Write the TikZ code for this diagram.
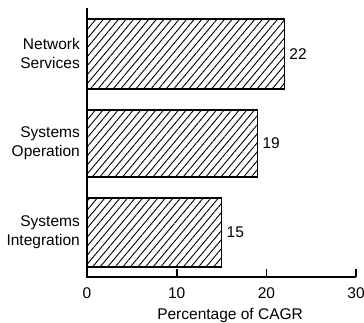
\documentclass[tikz,border=0pt]{standalone}
\usepackage{fontspec}
\setmainfont{Liberation Sans}
\usetikzlibrary{patterns.meta,positioning}

\tikzset{
  bar/.style={draw, line width=1.4pt,
    pattern={Lines[angle=50,distance=5.8pt,line width=0.9pt]}},
  axis/.style={line width=1.8pt},
  catlabel/.style={anchor=east, align=right, inner sep=0pt,
    font=\fontsize{15.5}{19.5}\selectfont},
  vallabel/.style={anchor=west, inner sep=0pt, font=\fontsize{15.5}{19}\selectfont},
  ticklabel/.style={anchor=base, inner sep=0pt, font=\fontsize{15.5}{19}\selectfont}
}

\begin{document}
\begin{tikzpicture}[x=8.97pt, y=-1pt]
  \useasboundingbox (-9.7,0) rectangle (30.88,323);

  % axes
  \coordinate (top) at (0,8);
  \coordinate (origin) at (0,277);
  \coordinate (xend) at (30,277);
  \draw[axis] (top) -- (origin) -- (xend);
  \foreach \t in {10,20,30}
    \draw[axis] (\t,277) -- (\t,269);
  \foreach \t in {0,10,20,30}
    \node[ticklabel] (tick\t) at (\t,298) {\t};
  \node[anchor=base, inner sep=0pt, font=\fontsize{15.5}{19}\selectfont]
    (xtitle) at (15.95,319) {Percentage of CAGR};

  % bars
  \foreach \val/\ytop/\ybot/\name/\txt in {
      22/19/89/net/{Network\\Services},
      19/110/177/ops/{Systems\\Operation},
      15/198/267/int/{Systems\\Integration}}
  {
    \draw[bar] (0,\ytop) rectangle (\val,\ybot);
    \node[vallabel] (\name val) at ({\val+0.55},{(\ytop+\ybot)/2}) {\val};
    \node[catlabel] (\name) at (-0.78,{(\ytop+\ybot)/2-0.5}) {\txt};
  }
\end{tikzpicture}
\end{document}
